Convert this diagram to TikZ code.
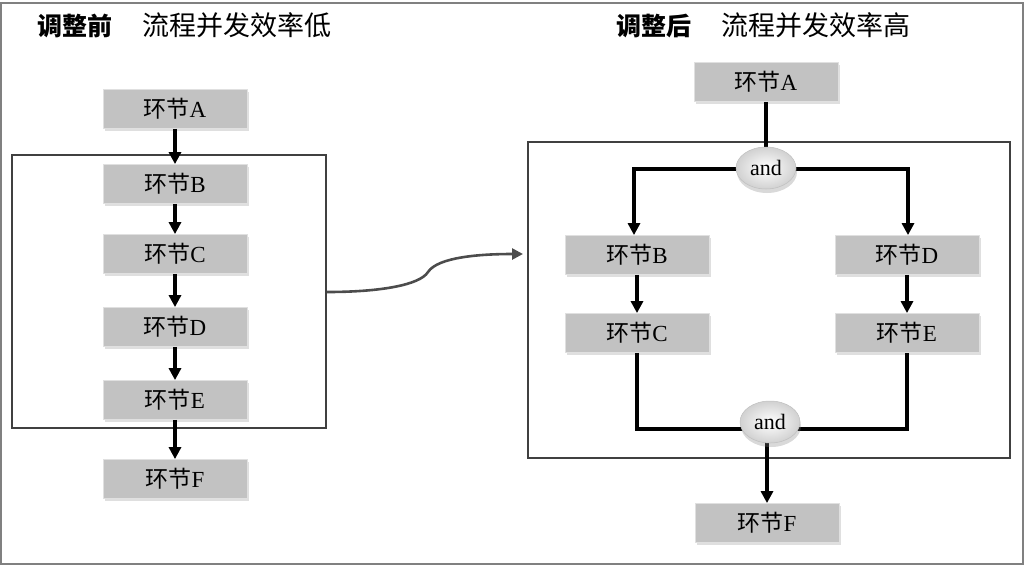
\documentclass[tikz,border=0pt]{standalone}
\usepackage{fontspec}
\setmainfont{Liberation Serif}
\newfontfamily\cjk{Noto Sans CJK SC}
\usetikzlibrary{arrows.meta,shadows,shapes.geometric}
\tikzset{
  stepbox/.style={draw=black!12, line width=0.8pt, fill=black!24, minimum width=144pt, minimum height=39pt, inner sep=0pt, font=\fontsize{23}{23}\selectfont, drop shadow={shadow xshift=1.5pt, shadow yshift=-2pt, opacity=0.25}},
  andnode/.style={ellipse, draw=black!25, line width=0.5pt, inner color=white, outer color=black!18, minimum width=60pt, minimum height=42pt, inner sep=0pt, font=\fontsize{22}{22}\selectfont, drop shadow={shadow xshift=1pt, shadow yshift=-4pt, opacity=0.3}},
  frame/.style={draw=black!75, line width=2.2pt},
  flow/.style={draw=black, line width=4pt, -{Triangle[length=12pt,width=12pt]}},
  flowline/.style={draw=black, line width=4pt},
  title/.style={font=\fontsize{27}{27}\selectfont, anchor=west, inner sep=0pt}
}
\begin{document}
\begin{tikzpicture}[x=1pt,y=-1pt]
\useasboundingbox (0,0) rectangle (1025,566);
\draw[black!50, line width=2pt] (1,3) rectangle (1023,564);
% titles
\node[title] (t1) at (37,25) {\cjk{\fontsize{25}{25}\selectfont\bfseries 调整前}\hspace{30pt}流程并发效率低};
\node[title] (t2) at (616,25) {\cjk{\fontsize{25}{25}\selectfont\bfseries 调整后}\hspace{30pt}流程并发效率高};
% left
\node[frame, minimum width=314pt, minimum height=273pt, inner sep=0pt] (lf) at (169,291.5) {};
\node[stepbox] (la) at (175,109) {{\cjk 环节}A};
\node[stepbox] (lb) at (175,184) {{\cjk 环节}B};
\node[stepbox] (lc) at (175,254) {{\cjk 环节}C};
\node[stepbox] (ld) at (175,327) {{\cjk 环节}D};
\node[stepbox] (le) at (175,400) {{\cjk 环节}E};
\node[stepbox] (lf2) at (175,479) {{\cjk 环节}F};
\draw[flow] (la) -- (lb);
\draw[flow] (lb) -- (lc);
\draw[flow] (lc) -- (ld);
\draw[flow] (ld) -- (le);
\draw[flow] (le) -- (lf2);
% right
\node[frame, minimum width=482pt, minimum height=316pt, inner sep=0pt] (rf) at (769,300) {};
\node[stepbox] (ra) at (766,82) {{\cjk 环节}A};
\node[stepbox] (rb) at (637,255) {{\cjk 环节}B};
\node[stepbox] (rc) at (637,333) {{\cjk 环节}C};
\node[stepbox] (rd) at (907,255) {{\cjk 环节}D};
\node[stepbox] (re) at (907,333) {{\cjk 环节}E};
\node[stepbox] (rff) at (767,523) {{\cjk 环节}F};
\coordinate (j1) at (634,169);
\coordinate (j2) at (908,169);
\coordinate (k1) at (637,429);
\coordinate (k2) at (907,429);
\draw[flowline] (ra) -- (766,169);
\draw[flow] (766,169) -- (j1) -- (j1 |- rb.north);
\draw[flow] (766,169) -- (j2) -- (j2 |- rd.north);
\draw[flowline] (rc.south) -- (k1) -- (k2) -- (re.south);
\node[andnode] (and1) at (766,168) {and};
\draw[flow] (rb) -- (rc);
\draw[flow] (rd) -- (re);
\draw[flow] (767,430) -- (rff);
\node[andnode] (and2) at (770,422) {and};
% connector
\coordinate (cs) at (lf.east |- 0,292);
\coordinate (ce) at (523,254);
\draw[black!70, line width=2.6pt, -{Triangle[length=11pt,width=11pt]}] (cs) .. controls (380,292) and (420,285) .. (428,272) .. controls (438,257) and (480,254) .. (ce);
\end{tikzpicture}
\end{document}
